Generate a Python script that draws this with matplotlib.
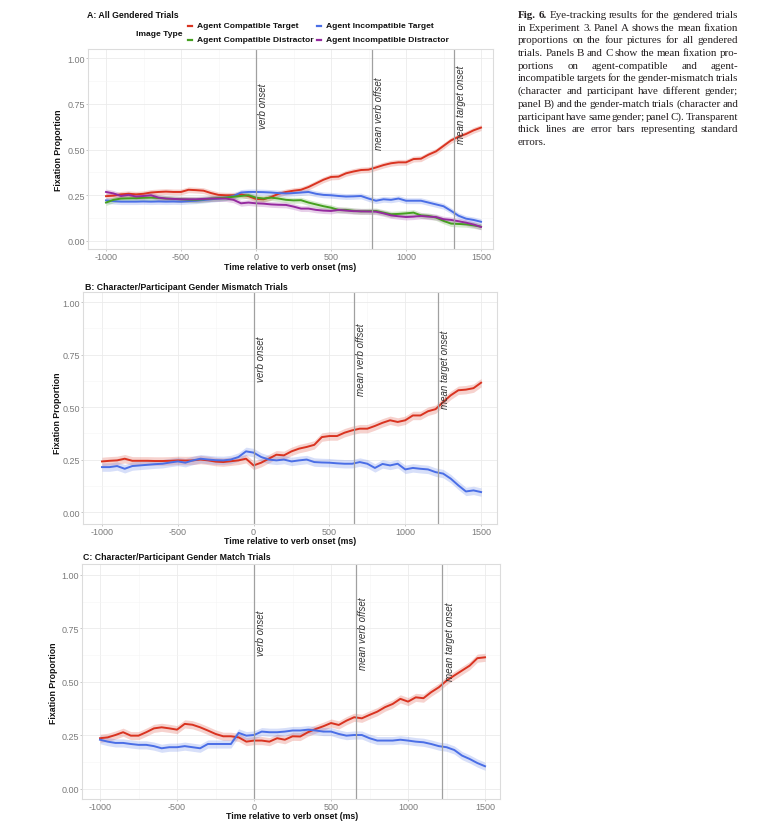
import matplotlib
matplotlib.use('Agg')
import matplotlib.pyplot as plt
from matplotlib.lines import Line2D
import numpy as np

plt.rcParams['font.family'] = ['Liberation Sans', 'DejaVu Sans']

# ---------------- data ----------------
time_ms = list(range(-1000, 1501, 50))

series_names = ["Agent Compatible Target", "Agent Incompatible Target",
                "Agent Compatible Distractor", "Agent Incompatible Distractor"]
series_colors = ["#d93320", "#4a6ee6", "#45a020", "#952a9f"]

A_comp_target = [0.245, 0.248, 0.255, 0.258, 0.255, 0.258, 0.265, 0.268, 0.270, 0.268,
                 0.268, 0.280, 0.278, 0.275, 0.262, 0.252, 0.250, 0.250, 0.255, 0.245,
                 0.230, 0.228, 0.240, 0.258, 0.268, 0.275, 0.280, 0.295, 0.315, 0.335,
                 0.350, 0.352, 0.370, 0.380, 0.388, 0.390, 0.402, 0.415, 0.425, 0.430,
                 0.430, 0.448, 0.450, 0.472, 0.490, 0.520, 0.550, 0.570, 0.585, 0.605,
                 0.620]
A_incomp_target = [0.222, 0.218, 0.215, 0.215, 0.215, 0.216, 0.215, 0.216, 0.215, 0.216,
                   0.215, 0.218, 0.220, 0.224, 0.228, 0.232, 0.237, 0.246, 0.265, 0.268,
                   0.268, 0.267, 0.265, 0.262, 0.260, 0.262, 0.265, 0.268, 0.258, 0.252,
                   0.250, 0.246, 0.243, 0.244, 0.246, 0.232, 0.220, 0.228, 0.225, 0.232,
                   0.220, 0.220, 0.220, 0.210, 0.200, 0.190, 0.165, 0.138, 0.122, 0.115,
                   0.105]
A_comp_distr = [0.210, 0.225, 0.232, 0.233, 0.234, 0.236, 0.237, 0.235, 0.232, 0.230,
                0.228, 0.226, 0.225, 0.228, 0.232, 0.235, 0.237, 0.242, 0.246, 0.250,
                0.237, 0.232, 0.237, 0.232, 0.225, 0.222, 0.223, 0.210, 0.200, 0.190,
                0.182, 0.170, 0.170, 0.165, 0.162, 0.163, 0.164, 0.155, 0.146, 0.148,
                0.151, 0.155, 0.140, 0.137, 0.128, 0.110, 0.095, 0.093, 0.091, 0.085,
                0.078]
A_incomp_distr = [0.268, 0.260, 0.246, 0.252, 0.243, 0.246, 0.250, 0.237, 0.232, 0.230,
                  0.228, 0.228, 0.228, 0.230, 0.232, 0.232, 0.232, 0.225, 0.206, 0.210,
                  0.206, 0.204, 0.200, 0.198, 0.197, 0.188, 0.177, 0.177, 0.170, 0.166,
                  0.164, 0.170, 0.166, 0.163, 0.162, 0.161, 0.160, 0.151, 0.140, 0.135,
                  0.131, 0.133, 0.137, 0.133, 0.131, 0.119, 0.115, 0.108, 0.100, 0.090,
                  0.077]

B_comp_target = [0.241, 0.244, 0.246, 0.254, 0.244, 0.244, 0.244, 0.243, 0.243, 0.244,
                 0.246, 0.245, 0.246, 0.250, 0.246, 0.240, 0.238, 0.242, 0.246, 0.254,
                 0.222, 0.235, 0.254, 0.273, 0.270, 0.289, 0.302, 0.310, 0.320, 0.357,
                 0.362, 0.362, 0.378, 0.389, 0.397, 0.397, 0.410, 0.425, 0.437, 0.429,
                 0.437, 0.460, 0.460, 0.480, 0.490, 0.524, 0.556, 0.580, 0.583, 0.590,
                 0.616]
B_incomp_target = [0.214, 0.214, 0.219, 0.206, 0.219, 0.222, 0.225, 0.228, 0.230, 0.236,
                   0.241, 0.235, 0.246, 0.254, 0.250, 0.247, 0.246, 0.250, 0.262, 0.289,
                   0.283, 0.262, 0.250, 0.246, 0.250, 0.241, 0.246, 0.250, 0.238, 0.236,
                   0.235, 0.232, 0.230, 0.230, 0.238, 0.230, 0.210, 0.229, 0.222, 0.230,
                   0.203, 0.210, 0.206, 0.203, 0.190, 0.183, 0.159, 0.127, 0.098, 0.103,
                   0.095]

C_comp_target = [0.237, 0.241, 0.252, 0.265, 0.249, 0.249, 0.265, 0.283, 0.288, 0.283,
                 0.277, 0.304, 0.300, 0.288, 0.273, 0.257, 0.246, 0.246, 0.241, 0.221,
                 0.226, 0.226, 0.221, 0.237, 0.230, 0.246, 0.245, 0.265, 0.280, 0.293,
                 0.308, 0.299, 0.319, 0.335, 0.330, 0.346, 0.361, 0.382, 0.397, 0.421,
                 0.408, 0.428, 0.424, 0.452, 0.475, 0.506, 0.530, 0.553, 0.576, 0.611,
                 0.615]
C_incomp_target = [0.230, 0.221, 0.215, 0.215, 0.210, 0.206, 0.206, 0.200, 0.190, 0.195,
                   0.195, 0.200, 0.195, 0.190, 0.210, 0.210, 0.210, 0.210, 0.262, 0.249,
                   0.252, 0.268, 0.265, 0.265, 0.268, 0.273, 0.273, 0.277, 0.273, 0.268,
                   0.268, 0.257, 0.249, 0.252, 0.252, 0.237, 0.226, 0.226, 0.226, 0.230,
                   0.226, 0.221, 0.218, 0.210, 0.200, 0.195, 0.182, 0.156, 0.140, 0.121,
                   0.106]

se_A = 0.016
se_B = 0.020
se_C = 0.019

event_labels = ["verb onset", "mean verb offset", "mean target onset"]
events_A = [0, 770, 1320]
events_B = [0, 660, 1215]
events_C = [0, 662, 1222]

panel_titles = ["A: All Gendered Trials",
                "B: Character/Participant Gender Mismatch Trials",
                "C: Character/Participant Gender Match Trials"]
x_ticks = [-1000, -500, 0, 500, 1000, 1500]
y_ticks = [0.0, 0.25, 0.5, 0.75, 1.0]
y_ticklabels = ["0.00", "0.25", "0.50", "0.75", "1.00"]
x_title = "Time relative to verb onset (ms)"
y_title = "Fixation Proportion"
legend_title = "Image Type"

caption_lines = [
    "Fig. 6. Eye-tracking results for the gendered trials",
    "in Experiment 3. Panel A shows the mean fixation",
    "proportions on the four pictures for all gendered",
    "trials. Panels B and C show the mean fixation pro-",
    "portions on agent-compatible and agent-",
    "incompatible targets for the gender-mismatch trials",
    "(character and participant have different gender;",
    "panel B) and the gender-match trials (character and",
    "participant have same gender; panel C). Transparent",
    "thick lines are error bars representing standard",
    "errors.",
]

# ---------------- figure ----------------
W, H = 781, 837
fig = plt.figure(figsize=(W / 100, H / 100), dpi=100)
fig.patch.set_facecolor('white')


def px_axes(l, t, r, b):
    return fig.add_axes([l / W, 1 - b / H, (r - l) / W, (b - t) / H])


def fx(x):
    return x / W


def fy(y):
    return 1 - y / H


def style_axes(ax, xlim, ylim):
    ax.set_xlim(*xlim)
    ax.set_ylim(*ylim)
    ax.set_xticks(x_ticks)
    ax.set_xticklabels([str(v) for v in x_ticks])
    ax.set_yticks(y_ticks)
    ax.set_yticklabels(y_ticklabels)
    ax.set_xticks([-750, -250, 250, 750, 1250], minor=True)
    ax.set_yticks([0.125, 0.375, 0.625, 0.875], minor=True)
    ax.grid(True, which='major', color='#ebebeb', lw=0.6)
    ax.grid(True, which='minor', color='#f5f5f5', lw=0.4)
    ax.set_axisbelow(True)
    for s in ax.spines.values():
        s.set_color('#dcdcdc')
        s.set_linewidth(0.8)
    ax.tick_params(which='major', length=1.5, width=0.5, color='#b3b3b3',
                   labelsize=6.5, labelcolor='#7a7a7a', pad=0.8)
    ax.tick_params(which='minor', length=0)


def draw_panel(ax, series, colors, se, events, ylabel_y_text):
    t = np.array(time_ms)
    for y, c in zip(series, colors):
        y = np.array(y)
        ax.fill_between(t, y - se, y + se, color=c, alpha=0.22, lw=0)
        ax.plot(t, y, color=c, lw=1.4)
    for ev, lab, yy in zip(events, event_labels, ylabel_y_text):
        ax.axvline(ev, color='#a0a0a0', lw=0.9)
        ax.text(ev + 15, yy, lab, rotation=90, ha='left', va='center',
                fontsize=7, style='italic', color='#333333')


# Panel A
axA = px_axes(88, 50, 493, 250)
style_axes(axA, (-1120, 1580), (-0.044, 1.05))
draw_panel(axA, [A_comp_target, A_incomp_target, A_comp_distr, A_incomp_distr],
           [series_colors[0], series_colors[1], series_colors[2], series_colors[3]],
           se_A, events_A, [0.74, 0.70, 0.75])

# Panel B
axB = px_axes(83, 293, 497, 525)
style_axes(axB, (-1125, 1605), (-0.057, 1.048))
draw_panel(axB, [B_comp_target, B_incomp_target],
           [series_colors[0], series_colors[1]], se_B, events_B, [0.73, 0.73, 0.68])

# Panel C
axC = px_axes(82, 565, 500, 800)
style_axes(axC, (-1117, 1597), (-0.047, 1.051))
draw_panel(axC, [C_comp_target, C_incomp_target],
           [series_colors[0], series_colors[1]], se_C, events_C, [0.73, 0.73, 0.69])

# titles and axis labels
lab_kw = dict(fontsize=6.3, fontweight='bold', color='#111111')
fig.text(fx(87), fy(15), panel_titles[0], ha='left', va='center', **lab_kw)
fig.text(fx(85), fy(287), panel_titles[1], ha='left', va='center', **lab_kw)
fig.text(fx(83), fy(557), panel_titles[2], ha='left', va='center', **lab_kw)

fig.text(fx(290), fy(267), x_title, ha='center', va='center', **lab_kw)
fig.text(fx(290), fy(542), x_title, ha='center', va='center', **lab_kw)
fig.text(fx(292), fy(817), x_title, ha='center', va='center', **lab_kw)

fig.text(fx(58), fy(150), y_title, rotation=90, ha='center', va='center', **lab_kw)
fig.text(fx(57), fy(413), y_title, rotation=90, ha='center', va='center', **lab_kw)
fig.text(fx(53), fy(683), y_title, rotation=90, ha='center', va='center', **lab_kw)

# legend
leg_kw = dict(fontsize=6.1, fontweight='bold', color='#111111')
fig.text(fx(136), fy(34), legend_title, ha='left', va='center', **leg_kw)
leg_pos = [(188, 27), (317, 27), (188, 41), (317, 41)]
for (lx, ly), name, c in zip(leg_pos, series_names, series_colors):
    fig.add_artist(Line2D([fx(lx), fx(lx + 4)], [fy(ly), fy(ly)], color=c, lw=1.6,
                          transform=fig.transFigure))
    fig.text(fx(lx + 9), fy(ly), name, ha='left', va='center', **leg_kw)

# caption (justified, baseline-aligned)
renderer = fig.canvas.get_renderer()
cap_left, cap_right = 518, 738
cap_base, cap_step = 18, 12.7
for i, line in enumerate(caption_lines):
    words = line.split(' ')
    yline = fy(cap_base + i * cap_step)
    texts = []
    for j, w in enumerate(words):
        bold = (i == 0 and j < 2)
        tt = fig.text(0, yline, w, ha='left', va='baseline', fontsize=7.9,
                      family=['Liberation Serif', 'DejaVu Serif'],
                      fontweight='bold' if bold else 'normal', color='#231f20')
        texts.append(tt)
    widths = [tt.get_window_extent(renderer).width for tt in texts]
    last = (i == len(caption_lines) - 1)
    if last or len(words) == 1:
        gap = 2.0
    else:
        gap = (cap_right - cap_left - sum(widths)) / (len(words) - 1)
        gap = max(gap, 1.0)
    x = cap_left
    for tt, wdt in zip(texts, widths):
        tt.set_x(fx(x))
        x += wdt + gap

fig.savefig('out.png', dpi=100, facecolor='white')
